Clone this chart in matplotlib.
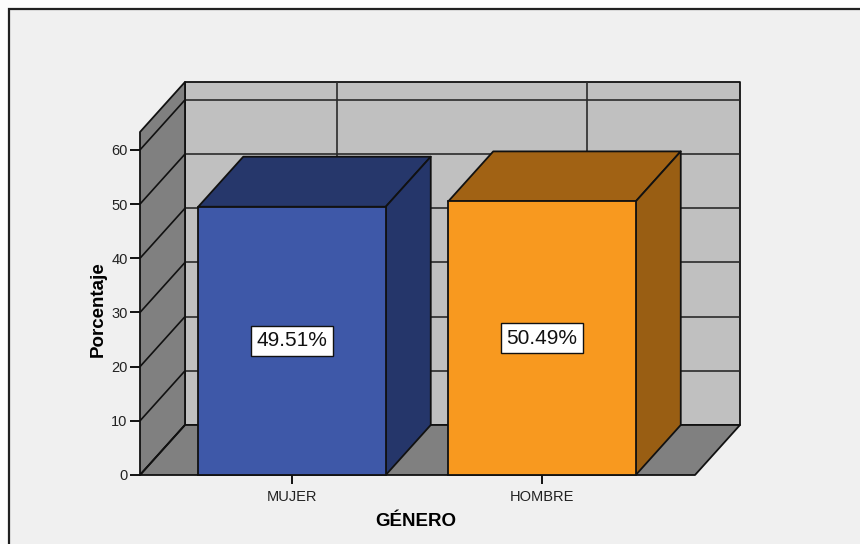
import matplotlib
matplotlib.use('Agg')
import matplotlib.pyplot as plt
from matplotlib.patches import Polygon, Rectangle

plt.rcParams['font.family'] = ['Liberation Sans', 'DejaVu Sans']

# porcentaje por genero
categorias = ['MUJER', 'HOMBRE']
porcentajes = [49.51, 50.49]
etiquetas = ['49.51%', '50.49%']
y_ticks = [0, 10, 20, 30, 40, 50, 60]

caras = {  # frente, techo, lado
    'MUJER': ('#3e58a8', '#26376b', '#25366a'),
    'HOMBRE': ('#f8991f', '#a16214', '#995e13'),
}

ancho = 0.75
DX, DY = 0.18, 9.23      # profundidad del efecto 3D en unidades de datos
y_max = 63.3
x_min, x_max = -0.608, 1.612

fig = plt.figure(figsize=(8.6, 5.44), dpi=100, facecolor='#fbfbfb')
fig.patches.append(Rectangle((8.5 / 860, -0.1), 1.2, 1 - 9 / 544 + 0.1,
                             transform=fig.transFigure, facecolor='#f0f0f0',
                             edgecolor='#1e1e1e', lw=1.6, zorder=-1))

ax = fig.add_axes([140 / 860, 69 / 544, 555 / 860, 343 / 544])
ax.set_facecolor('none')
ax.set_xlim(x_min, x_max)
ax.set_ylim(0, y_max)
for s in ax.spines.values():
    s.set_visible(False)

def poly(pts, color, z, lw=1.3):
    ax.add_patch(Polygon(pts, closed=True, facecolor=color, edgecolor='#111111',
                         lw=lw, joinstyle='round', clip_on=False, zorder=z))

def linea(xs, ys, z, color='#2a2a2a', lw=1.2):
    ax.plot(xs, ys, color=color, lw=lw, clip_on=False, zorder=z,
            solid_capstyle='butt')

# pared del fondo
poly([(x_min + DX, DY), (x_max + DX, DY), (x_max + DX, y_max + DY),
      (x_min + DX, y_max + DY)], '#c0c0c0', 1)
for v in y_ticks:
    linea([x_min + DX, x_max + DX], [v + DY, v + DY], 2)
for i in range(len(categorias)):
    linea([i + DX, i + DX], [DY, y_max + DY], 2)

# pared lateral y piso
poly([(x_min, 0), (x_min, y_max), (x_min + DX, y_max + DY), (x_min + DX, DY)],
     '#808080', 3)
for v in y_ticks:
    linea([x_min, x_min + DX], [v, v + DY], 4, color='#111111')
poly([(x_min, 0), (x_max, 0), (x_max + DX, DY), (x_min + DX, DY)], '#808080', 3)

# barras
for i, (cat, val, txt) in enumerate(zip(categorias, porcentajes, etiquetas)):
    frente, techo, lado = caras[cat]
    x0, x1 = i - ancho / 2, i + ancho / 2
    poly([(x0, val), (x1, val), (x1 + DX, val + DY), (x0 + DX, val + DY)], techo, 5)
    poly([(x1, 0), (x1 + DX, DY), (x1 + DX, val + DY), (x1, val)], lado, 5)
    ax.add_patch(Rectangle((x0, 0), ancho, val, facecolor=frente,
                           edgecolor='#111111', lw=1.3, clip_on=False, zorder=6))
    ax.text(i, val / 2, txt, ha='center', va='center', fontsize=15,
            color='#111111', zorder=7,
            bbox=dict(boxstyle='square,pad=0.27', facecolor='white',
                      edgecolor='#111111', lw=1.0))

ax.set_yticks(y_ticks)
ax.set_xticks(range(len(categorias)))
ax.set_xticklabels(categorias)
ax.tick_params(axis='y', length=7.5, width=1.4, pad=1.5, labelsize=10.5,
               colors='#111111', labelcolor='#222222')
ax.tick_params(axis='x', length=6.5, width=1.4, pad=4, labelsize=10.5,
               colors='#111111', labelcolor='#222222')

ax.set_xlabel('GÉNERO', fontsize=13.5, fontweight='bold')
ax.set_ylabel('Porcentaje', fontsize=13.5, fontweight='bold')
ax.yaxis.set_label_coords(-(140 - 107) / 555, (475 - 309) / 343)
ax.xaxis.set_label_coords((416 - 140) / 555, -(513 - 475) / 343)

fig.savefig('out.png', dpi=100, facecolor=fig.get_facecolor())
